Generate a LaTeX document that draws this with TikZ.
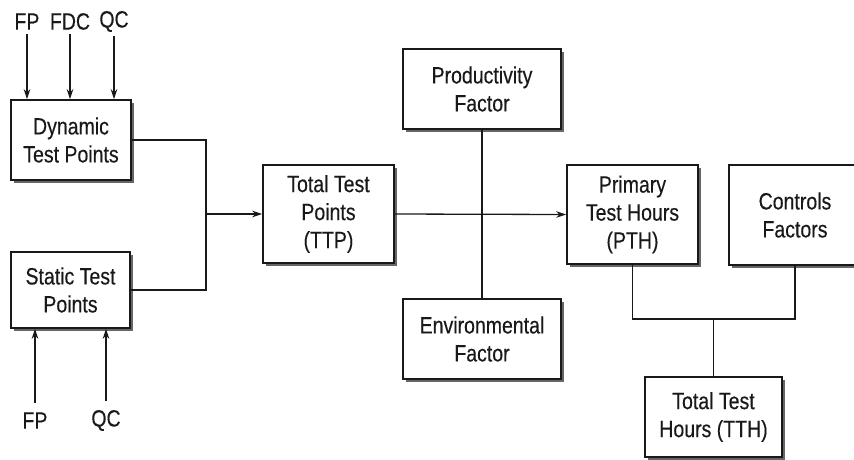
\documentclass[tikz,border=0pt]{standalone}
\usepackage{fontspec}
\setmainfont{Liberation Sans}[FakeStretch=0.83,FakeBold=0.3]
\usetikzlibrary{arrows.meta,shadows}
\begin{document}
\begin{tikzpicture}[x=1pt,y=-1pt,
  txt/.style={font=\fontsize{23.5}{28}\selectfont, text=black!90},
  box/.style={txt, draw=black!90, line width=1.6pt, fill=white, align=center, inner sep=0pt,
    drop shadow={shadow xshift=3.2pt, shadow yshift=-3.2pt, fill=black!60, opacity=1}},
  lbl/.style={txt, inner sep=0pt},
  conn/.style={line width=1.3pt, draw=black!90},
  arr/.style={conn, -{Stealth[length=10pt,width=6.5pt]}}
]
\useasboundingbox (0,0) rectangle (854,459);
\clip (0,0) rectangle (854,459);

\node[box, minimum width=120pt, minimum height=80pt] (dyn) at (71,140) {Dynamic\\Test Points};
\node[box, minimum width=119pt, minimum height=76pt] (stat) at (70.5,290) {Static Test\\Points};
\node[box, minimum width=131pt, minimum height=98pt] (ttp) at (328.5,214) {Total Test\\Points\\(TTP)};
\node[box, minimum width=158pt, minimum height=80pt] (prod) at (482,89) {Productivity\\Factor};
\node[box, minimum width=158pt, minimum height=80pt] (env) at (482,339) {Environmental\\Factor};
\node[box, minimum width=131pt, minimum height=99pt] (pth) at (632.5,214.5) {Primary\\Test Hours\\(PTH)};
\node[box, minimum width=132pt, minimum height=100pt] (ctl) at (795,215) {Controls\\Factors};
\node[box, minimum width=137pt, minimum height=80pt] (tth) at (713.5,417) {Total Test\\Hours (TTH)};

\node[lbl] (fp1) at (27,21.5) {FP};
\node[lbl] (fdc) at (70,21.5) {FDC};
\node[lbl] (qc1) at (114,21.5) {QC};
\node[lbl] (fp2) at (35,420.5) {FP};
\node[lbl] (qc2) at (106,420.5) {QC};

\draw[arr, shorten <=4pt] (fp1.south) -- (fp1.south |- dyn.north);
\draw[arr, shorten <=4pt] (fdc.south) -- (fdc.south |- dyn.north);
\draw[arr, shorten <=4pt] (qc1.south) -- (qc1.south |- dyn.north);
\draw[arr, shorten <=9pt] (fp2.north) -- (fp2.north |- stat.south);
\draw[arr, shorten <=9pt] (qc2.north) -- (qc2.north |- stat.south);

\coordinate (j) at (206,214);
\draw[conn] (dyn.east) -| (j);
\draw[conn] (stat.east) -| (j);
\draw[arr] (j) -- (ttp.west);
\draw[arr] (ttp.east) -- (pth.west);
\draw[conn] (prod.south) -- (env.north);

\coordinate (m) at (713.5,319);
\draw[conn] (pth.south) |- (m) -| (ctl.south);
\draw[conn] (m) -- (tth.north);
\end{tikzpicture}
\end{document}
